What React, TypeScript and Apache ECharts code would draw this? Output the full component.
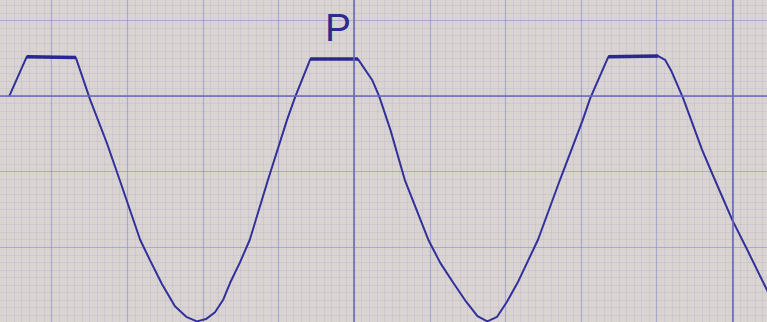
import React, { useEffect, useRef } from "react";
import * as echarts from "echarts";

// Graph-paper units: 1 unit = one fine division
const curveX = [4.4, 6.7, 13.2, 15.1, 17.3, 19.0, 21.7, 23.0, 24.6, 26.3, 27.8, 29.2, 30.4, 31.6, 32.7, 33.6, 34.9, 36.2, 38.6, 41.1, 42.2, 44.2, 50.5, 52.4, 53.3, 54.8, 56.7, 59.8, 61.4, 63.1, 64.8, 66.3, 67.6, 68.9, 70.2, 71.6, 74.3, 77.2, 80.2, 81.2, 83.6, 90.2, 91.1, 91.9, 93.5, 96.0, 97.4, 100.0, 102.0, 104.6, 106.3];
const curveY = [0, 5.2, 5.1, -0.5, -6.2, -11.1, -19.0, -21.7, -24.9, -27.8, -29.2, -29.8, -29.5, -28.6, -26.9, -24.7, -22.0, -19.0, -11.1, -3.2, -0.1, 4.9, 4.9, 2.1, 0, -4.5, -11.1, -19.0, -22.1, -24.7, -27.2, -29.1, -29.8, -29.2, -27.2, -24.7, -19.0, -11.1, -3.2, -0.3, 5.2, 5.3, 4.8, 3.4, -0.3, -7.1, -10.4, -16.4, -20.4, -25.7, -28.8];
// flat tops (traced twice, thicker)
const topStartX = [6.7, 44.2, 83.6];
const topEndX = [13.2, 50.5, 90.2];
const topStartY = [5.2, 4.9, 5.2];
const topEndY = [5.1, 4.9, 5.3];
// heavy graph-paper lines
const heavyX = [0, 50, 100];
const heavyY = [0];
const label = "P";

const OFF_X = -24;
const OFF_Y = -55.2;

export default function App() {
  const ref = useRef<HTMLDivElement>(null);
  useEffect(() => {
    if (!ref.current) return;
    const chart = echarts.init(ref.current, undefined, { renderer: "svg" });
    const curve = curveX.map((x, i) => [x, curveY[i]]);
    const tops: any[] = [];
    topStartX.forEach((x, i) => {
      tops.push([x, topStartY[i]]);
      tops.push([topEndX[i], topEndY[i]]);
      tops.push([null, null]);
    });
    const fine = { show: true, lineStyle: { color: "rgba(140,140,200,0.15)", width: 1 } };
    const medium = { show: true, lineStyle: { color: "rgba(118,118,205,0.45)", width: 1.2 } };
    chart.setOption({
      animation: false,
      backgroundColor: "#d9d4d1",
      grid: { left: 0, top: 0, right: 0, bottom: 0, containLabel: false, outerBoundsMode: "none" },
      xAxis: {
        type: "value", min: 0, max: 110, interval: 10,
        axisLine: { show: false }, axisTick: { show: false }, axisLabel: { show: false },
        splitLine: medium,
        minorTick: { show: false, splitNumber: 10 },
        minorSplitLine: fine,
      },
      yAxis: {
        type: "value", min: -50, max: 20, interval: 10,
        axisLine: { show: false }, axisTick: { show: false }, axisLabel: { show: false },
        splitLine: medium,
        minorTick: { show: false, splitNumber: 10 },
        minorSplitLine: fine,
      },
      series: [
        {
          type: "line",
          data: curve,
          symbol: "none",
          lineStyle: { color: "#32309a", width: 2 },
          markLine: {
            silent: true,
            symbol: "none",
            label: { show: false },
            lineStyle: { color: "#6a68b8", width: 1.6, type: "solid" },
            data: [
              ...heavyX.map((x) => ({ xAxis: x })),
              ...heavyY.map((y) => ({ yAxis: y })),
            ],
          },
          z: 3,
        },
        {
          type: "line",
          data: tops,
          symbol: "none",
          connectNulls: false,
          lineStyle: { color: "#2a278f", width: 3.5 },
          z: 4,
        },
      ],
      graphic: [
        {
          type: "text",
          x: 338 - OFF_X,
          y: 27 - OFF_Y,
          style: {
            text: label,
            font: "39px 'Liberation Sans', sans-serif",
            fill: "#2d2b8e",
            align: "center",
            verticalAlign: "middle",
          },
          z: 10,
        },
      ],
    });
    return () => chart.dispose();
  }, []);
  return (
    <div style={{ position: "fixed", left: 0, top: 0, width: 767, height: 322, overflow: "hidden" }}>
      <div ref={ref} style={{ position: "absolute", left: OFF_X, top: OFF_Y, width: 831.6, height: 529.2 }} />
    </div>
  );
}
